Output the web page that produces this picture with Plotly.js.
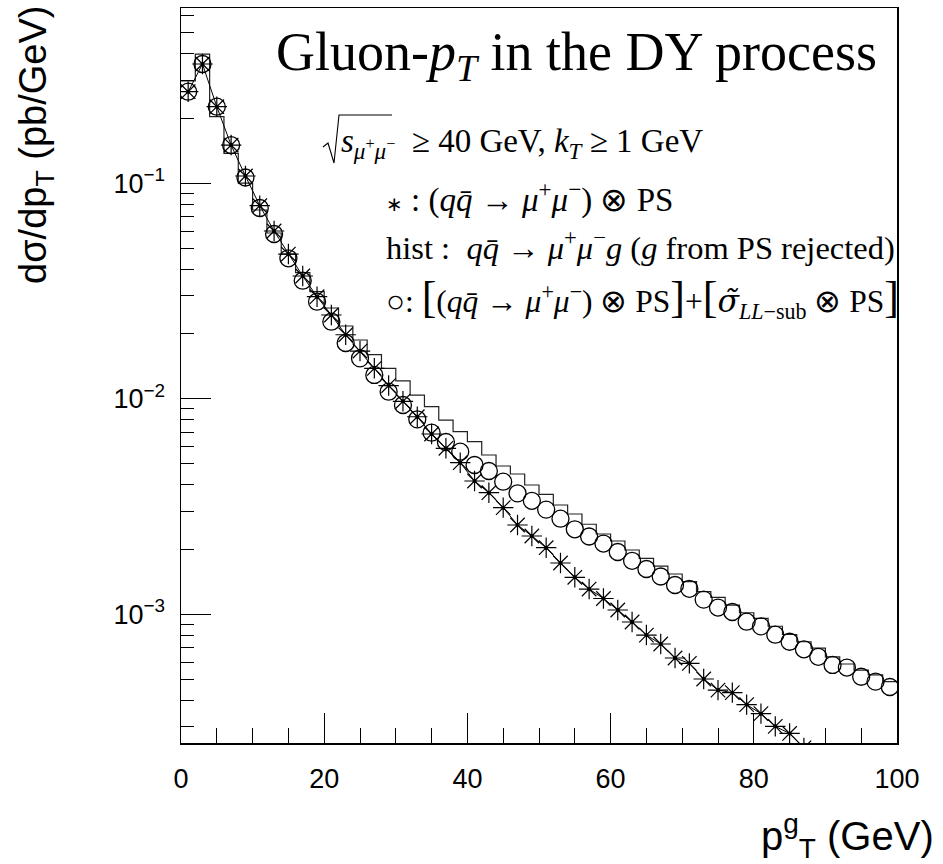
<!DOCTYPE html>
<html>
<head>
<meta charset="utf-8">
<script src="https://cdn.plot.ly/plotly-3.0.1.min.js"></script>
<style>
html,body{margin:0;padding:0;background:#fff;}
#chart{width:943px;height:864px;}
</style>
</head>
<body>
<div id="chart"></div>
<script>
// bin centres (GeV), 2 GeV bins from 0 to 100
const ptCenters = [1,3,5,7,9,11,13,15,17,19,21,23,25,27,29,31,33,35,37,39,
                   41,43,45,47,49,51,53,55,57,59,61,63,65,67,69,71,73,75,77,79,
                   81,83,85,87,89,91,93,95,97,99];
const binWidth = 2;

// * : (q qbar -> mu+ mu-) x PS
const starValues = [0.2661,0.3578,0.2267,0.1505,0.1081,0.07871,0.06007,0.04697,0.03714,0.02977,
                    0.02448,0.01983,0.01666,0.01385,0.01152,0.009736,0.008256,0.006867,0.005892,0.005052,
                    0.004155,0.003666,0.003125,0.002597,0.002309,0.002037,0.001730,0.001485,0.001310,0.001184,
                    0.001047,0.000921,0.000801,0.000728,0.000627,0.000592,0.000501,0.000445,0.000433,0.000381,
                    0.000346,0.000302,0.000280,0.000240];

// o : [(q qbar -> mu+ mu-) x PS] + [sigma_LL-sub x PS]
const circleValues = [0.2661,0.3578,0.2267,0.1505,0.1064,0.07680,0.05817,0.04487,0.03532,0.02822,
                      0.02279,0.01815,0.01541,0.01290,0.01079,0.009358,0.008031,0.006963,0.006303,0.005683,
                      0.004929,0.004624,0.004124,0.003642,0.003362,0.003061,0.002778,0.002480,0.002296,0.002130,
                      0.001946,0.001771,0.001623,0.001498,0.001368,0.001313,0.001170,0.001075,0.001025,0.000924,
                      0.000879,0.000804,0.000746,0.000688,0.000635,0.000582,0.000566,0.000513,0.000487,0.000460];

// hist : q qbar -> mu+ mu- g
const histValues = [0.2983,0.398,0.2037,0.1378,0.1003,0.07518,0.05880,0.04697,0.03847,0.03141,
                    0.02638,0.02177,0.01874,0.01605,0.01385,0.01210,0.01041,0.009190,0.007970,0.007037,
                    0.006323,0.005485,0.004877,0.004477,0.003981,0.003603,0.003216,0.002920,0.002617,0.002359,
                    0.002188,0.001988,0.001819,0.001675,0.001538,0.001417,0.001273,0.001199,0.001104,0.001017,
                    0.000958,0.000880,0.000806,0.000746,0.000696,0.000635,0.000588,0.000551,0.000523,0.000487];

const yTickVals = [0.1, 0.01, 0.001];
const yTickText = ['10<sup>\u22121</sup>','10<sup>\u22122</sup>','10<sup>\u22123</sup>'];
const xTickVals = [0,20,40,60,80,100];

// step outline built from the bin edges
const histX = ptCenters.map(c => c - binWidth/2).concat([ptCenters[ptCenters.length-1] + binWidth/2]);
const histY = histValues.concat([histValues[histValues.length-1]]);
const starX = ptCenters.slice(0, starValues.length);

const traces = [
  {x: histX, y: histY, type:'scatter', mode:'lines', line:{shape:'hv', color:'#222', width:1.2},
   hoverinfo:'skip', showlegend:false},
  {x: ptCenters, y: circleValues, type:'scatter', mode:'markers',
   marker:{symbol:'circle-open', size:17, color:'#000', line:{width:1.3, color:'#000'}}, showlegend:false},
  {x: starX, y: starValues, type:'scatter', mode:'lines+markers', line:{color:'#000', width:1},
   marker:{symbol:'asterisk-open', size:17, color:'#000', line:{width:1.2, color:'#000'}}, showlegend:false},
  {x: starX, y: starValues, type:'scatter', mode:'markers',
   marker:{symbol:'circle', size:4, color:'#000'}, showlegend:false}
];

const L = 181, R = 897, T = 8, B = 743;
const px = v => (v - L) / (R - L);
const py = v => (B - v) / (B - T);
const serif = 'Liberation Serif, Times New Roman, serif';
const sans = 'Liberation Sans, Arial, sans-serif';
const sp = '\u00A0';
const qqbar = '<i>q</i><i>q\u0304</i>';
const mumu = '<i>\u03BC</i><sup>+</sup><i>\u03BC</i><sup>\u2212</sup>';
const arrow = sp + '\u2192' + sp;
const bigL = '<span style="font-size:44px">[</span>';
const bigR = '<span style="font-size:44px">]</span>';

// square-root sign drawn as a line path (paper coordinates)
const rootPts = [[323,147],[328,143],[334,163],[339,115],[392,115]];
const rootPath = rootPts.map((p,i) => (i ? 'L' : 'M') + px(p[0]).toFixed(5) + ',' + py(p[1]).toFixed(5)).join(' ');

const layout = {
  width: 943, height: 864,
  margin: {l: L, r: 943 - R, t: T, b: 864 - B, pad: 0},
  paper_bgcolor: '#fff', plot_bgcolor: '#fff',
  showlegend: false,
  xaxis: {
    range: [0, 100], showgrid: false, zeroline: false,
    showline: true, linecolor: '#000', linewidth: 1.5, mirror: true,
    ticks: 'inside', ticklen: 30, tickwidth: 1, tickcolor: '#000',
    tickvals: xTickVals, ticklabelstandoff: 11,
    minor: {ticks: 'inside', ticklen: 15, dtick: 5, tickcolor: '#000', tickwidth: 1, showgrid: false},
    tickfont: {family: sans, size: 27, color: '#000'}
  },
  yaxis: {
    type: 'log', range: [-3.5972, -0.1865], showgrid: false, zeroline: false,
    showline: true, linecolor: '#000', linewidth: 1.5, mirror: true,
    ticks: 'inside', ticklen: 30, tickwidth: 1, tickcolor: '#000',
    tickvals: yTickVals, ticktext: yTickText, ticklabelstandoff: 9,
    minor: {ticks: 'inside', ticklen: 13, dtick: 'D1', tickcolor: '#000', tickwidth: 1, showgrid: false},
    tickfont: {family: sans, size: 27, color: '#000'}
  },
  shapes: [
    {type:'path', xref:'paper', yref:'paper', path: rootPath, line:{color:'#000', width:1.1}}
  ],
  annotations: [
    {xref:'paper', yref:'paper', x: px(576), y: py(55), xanchor:'center', yanchor:'middle', showarrow:false,
     text:'Gluon-<i>p</i><sub><i>T</i></sub> in the DY process', font:{family: serif, size: 54, color:'#000'}},
    {xref:'paper', yref:'paper', x: px(339), y: py(143), xanchor:'left', yanchor:'middle', showarrow:false,
     text:'<i>s</i><sub><i>\u03BC</i><sup>+</sup><i>\u03BC</i><sup>\u2212</sup></sub>' + sp + sp + '\u2265 40 GeV,' + sp + '<i>k</i><sub><i>T</i></sub>' + sp + '\u2265 1 GeV',
     font:{family: serif, size: 33, color:'#000'}},
    {xref:'paper', yref:'paper', x: px(384), y: py(198), xanchor:'left', yanchor:'middle', showarrow:false,
     text:'<span style="font-family:DejaVu Sans;font-size:20px">\u2217</span>' + sp + ':' + sp + '(' + qqbar + arrow + mumu + ')' + sp + '\u2297' + sp + 'PS',
     font:{family: serif, size: 33, color:'#000'}},
    {xref:'paper', yref:'paper', x: px(384), y: py(246), xanchor:'left', yanchor:'middle', showarrow:false,
     text:'hist' + sp + ':' + sp + sp + qqbar + arrow + mumu + '<i>g</i>' + sp + '(<i>g</i> from PS rejected)',
     font:{family: serif, size: 32.5, color:'#000'}},
    {xref:'paper', yref:'paper', x: px(384), y: py(298), xanchor:'left', yanchor:'middle', showarrow:false,
     text:'\u25CB:' + sp + bigL + '(' + qqbar + arrow + mumu + ')' + sp + '\u2297' + sp + 'PS' + bigR + '+' + bigL +
          '<span style="font-family:DejaVu Serif"><i>\u03C3\u0303</i></span><sub><i>LL</i>\u2212sub</sub>' + sp + '\u2297' + sp + 'PS' + bigR,
     font:{family: serif, size: 31.5, color:'#000'}},
    {xref:'paper', yref:'paper', x: px(36), y: py(4), xanchor:'center', yanchor:'top', showarrow:false, textangle:-90,
     text:'d\u03C3/dp<sub>T</sub> (pb/GeV)', font:{family: sans, size: 38, color:'#000'}},
    {xref:'paper', yref:'paper', x: px(936), y: py(836), xanchor:'right', yanchor:'middle', showarrow:false,
     text:'p<sup>g</sup><sub>T</sub> (GeV)', font:{family: sans, size: 40, color:'#000'}}
  ]
};

Plotly.newPlot('chart', traces, layout, {staticPlot: true, displayModeBar: false});
</script>
</body>
</html>
